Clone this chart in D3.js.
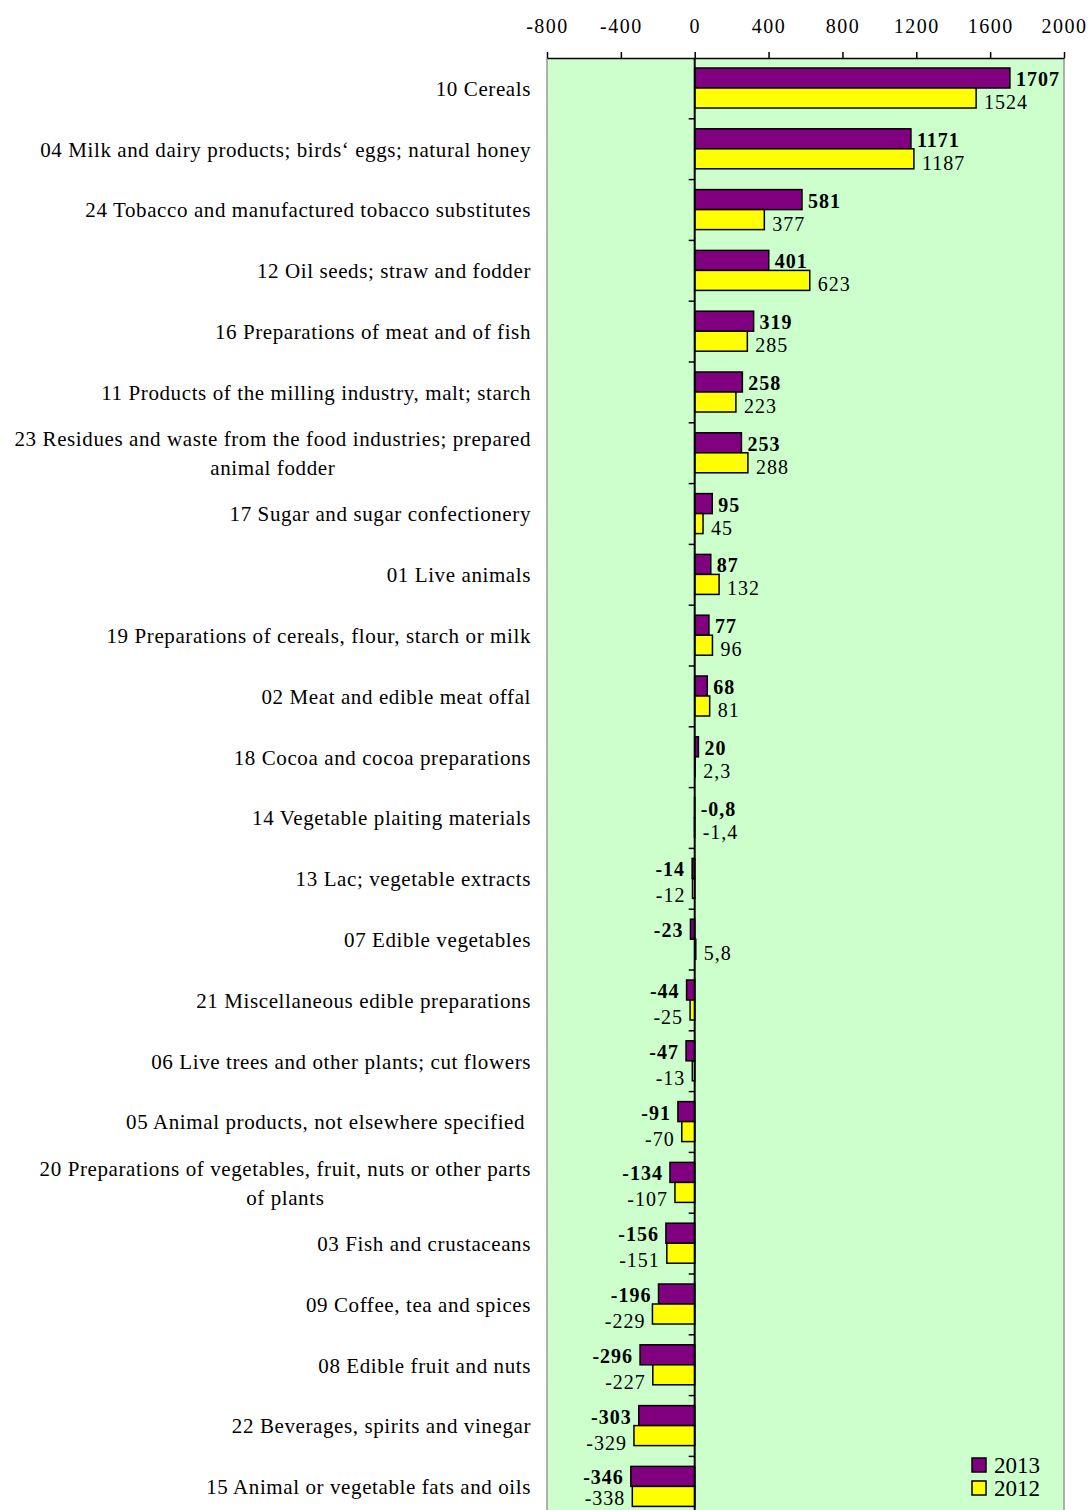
<!DOCTYPE html>
<html>
<head>
<meta charset="utf-8">
<script src="https://cdn.jsdelivr.net/npm/d3@7"></script>
<style>
  html, body { margin: 0; padding: 0; background: #fff; }
  svg { display: block; }
  svg text { font-family: "Times New Roman", "Liberation Serif", Times, serif; fill: #000; }
</style>
</head>
<body>
<svg id="chart" width="1090" height="1510"></svg>
<script>
// Trade balance by commodity group (HS chapters), 2013 vs 2012
const categories = [
  "10 Cereals",
  "04 Milk and dairy products; birds\u2018 eggs; natural honey",
  "24 Tobacco and manufactured tobacco substitutes",
  "12 Oil seeds; straw and fodder",
  "16 Preparations of meat and of fish",
  "11 Products of the milling industry, malt; starch",
  "23 Residues and waste from the food industries; prepared\nanimal fodder",
  "17 Sugar and sugar confectionery",
  "01 Live animals",
  "19 Preparations of cereals, flour, starch or milk",
  "02 Meat and edible meat offal",
  "18 Cocoa and cocoa preparations",
  "14 Vegetable plaiting materials",
  "13 Lac; vegetable extracts",
  "07 Edible vegetables",
  "21 Miscellaneous edible preparations",
  "06 Live trees and other plants; cut flowers",
  "05 Animal products, not elsewhere specified ",
  "20 Preparations of vegetables, fruit, nuts or other parts\nof plants",
  "03 Fish and crustaceans",
  "09 Coffee, tea and spices",
  "08 Edible fruit and nuts",
  "22 Beverages, spirits and vinegar",
  "15 Animal or vegetable fats and oils"
];
const values2013 = [1707, 1171, 581, 401, 319, 258, 253, 95, 87, 77, 68, 20, -0.8,
  -14, -23, -44, -47, -91, -134, -156, -196, -296, -303, -346];
const values2012 = [1524, 1187, 377, 623, 285, 223, 288, 45, 132, 96, 81, 2.3, -1.4,
  -12, 5.8, -25, -13, -70, -107, -151, -229, -227, -329, -338];
const seriesNames = ["2013", "2012"];
const tickValues = [-800, -400, 0, 400, 800, 1200, 1600, 2000];

const colors = { "2013": "#800080", "2012": "#ffff00" };
const serif = '"Times New Roman", "Liberation Serif", Times, serif';

const svg = d3.select("#chart");
const width = 1090, height = 1510;
const plotLeft = 547, plotRight = 1064, plotTop = 58;
const bandStep = 60.8;
const plotBottom = plotTop + bandStep * categories.length;

const x = d3.scaleLinear().domain([-800, 2000]).range([plotLeft, plotRight]);
const y = d3.scaleBand().domain(categories).range([plotTop, plotBottom]);
const ySub = d3.scaleBand().domain(seriesNames).range([10, 50]);

const rows = categories.map((c, i) => ({ cat: c, "2013": values2013[i], "2012": values2012[i] }));
const fmt = v => String(v).replace(".", ",");

// plot area background
svg.append("rect")
  .attr("x", plotLeft).attr("y", plotTop)
  .attr("width", plotRight - plotLeft).attr("height", plotBottom - plotTop)
  .attr("fill", "#ccffcc");
svg.append("line").attr("x1", plotLeft).attr("x2", plotLeft)
  .attr("y1", plotTop).attr("y2", plotBottom).attr("stroke", "#999").attr("stroke-width", 1.5);
svg.append("line").attr("x1", plotRight).attr("x2", plotRight)
  .attr("y1", plotTop).attr("y2", plotBottom).attr("stroke", "#999").attr("stroke-width", 1.5);

// top value axis
const axis = svg.append("g")
  .attr("transform", `translate(0,${plotTop})`)
  .call(d3.axisTop(x).tickValues(tickValues).tickSize(6).tickSizeOuter(0).tickFormat(d => d));
axis.attr("font-family", null);
axis.select(".domain").attr("stroke", "#000").attr("stroke-width", 1.5);
axis.selectAll(".tick line").attr("stroke", "#000").attr("stroke-width", 1.5);
axis.selectAll(".tick text")
  .attr("y", -25)
  .style("font-family", serif)
  .style("font-size", "20px")
  .style("letter-spacing", "1.5px");

// bars
const groups = svg.append("g").selectAll("g")
  .data(rows).join("g")
  .attr("transform", d => `translate(0,${y(d.cat)})`);

seriesNames.forEach(s => {
  groups.append("rect")
    .attr("x", d => x(Math.min(0, d[s])))
    .attr("y", ySub(s))
    .attr("width", d => Math.abs(x(d[s]) - x(0)))
    .attr("height", ySub.bandwidth())
    .attr("fill", colors[s])
    .attr("stroke", "#000")
    .attr("stroke-width", 1.5);
});

// category zero axis with ticks between bands
svg.append("line")
  .attr("x1", x(0)).attr("x2", x(0))
  .attr("y1", plotTop).attr("y2", plotBottom)
  .attr("stroke", "#000").attr("stroke-width", 2);
svg.append("g").selectAll("line")
  .data(categories.slice(1).map(c => y(c)).concat([plotBottom]))
  .join("line")
  .attr("x1", x(0) - 6).attr("x2", x(0))
  .attr("y1", d => d).attr("y2", d => d)
  .attr("stroke", "#000").attr("stroke-width", 1.5);

// value labels: 2013 bold beside the bar end, 2012 slightly lower
seriesNames.forEach(s => {
  const bold = s === "2013";
  groups.append("text")
    .attr("x", d => d[s] < -5 ? x(Math.min(0, d[s])) - 7 : x(Math.max(0, d[s])) + (bold ? 6 : 8))
    .attr("y", d => {
      const base = ySub(s) + ySub.bandwidth() / 2;
      const shift = bold ? 1 : (d[s] < -5 ? 7 : 4);
      return Math.min(base + shift, height - 12 - y(d.cat));
    })
    .attr("dy", "0.35em")
    .attr("text-anchor", d => d[s] < -5 ? "end" : "start")
    .style("font-size", "20px")
    .style("letter-spacing", "1px")
    .style("font-weight", bold ? "bold" : "normal")
    .text(d => fmt(d[s]));
});

// category labels (right aligned block, wrapped lines centred within it)
const labelRight = 531;
const lineH = 29;
rows.forEach(d => {
  const lines = d.cat.split("\n");
  const g = svg.append("g");
  const cy = y(d.cat) + y.bandwidth() / 2;
  const texts = lines.map((ln, i) => g.append("text")
    .attr("y", cy + (i - (lines.length - 1) / 2) * lineH)
    .attr("dy", "0.35em")
    .style("font-size", "21px")
    .style("letter-spacing", "0.6px")
    .style("white-space", "pre")
    .text(ln));
  if (lines.length === 1) {
    texts[0].attr("x", labelRight).attr("text-anchor", "end");
  } else {
    const w = d3.max(texts, t => t.node().getComputedTextLength());
    texts.forEach(t => t.attr("x", labelRight - w / 2).attr("text-anchor", "middle"));
  }
});

// legend
const legend = svg.append("g").attr("transform", "translate(972,1458)");
seriesNames.forEach((s, i) => {
  legend.append("rect")
    .attr("x", 0).attr("y", i * 23)
    .attr("width", 14).attr("height", 14)
    .attr("fill", colors[s]).attr("stroke", "#000").attr("stroke-width", 1.5);
  legend.append("text")
    .attr("x", 22).attr("y", i * 23 + 7).attr("dy", "0.35em")
    .style("font-size", "23px")
    .text(s);
});
</script>
</body>
</html>
